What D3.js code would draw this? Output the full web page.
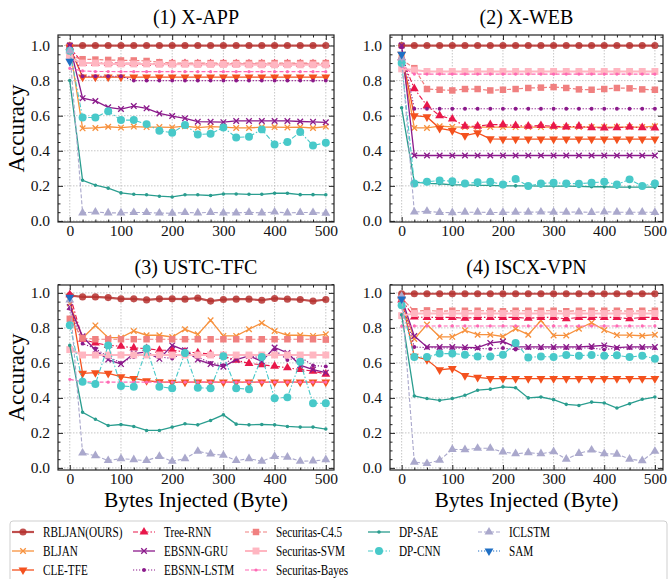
<!DOCTYPE html>
<html>
<head>
<meta charset="utf-8">
<script src="https://cdn.jsdelivr.net/npm/d3@7"></script>
<style>
  body { margin: 0; background: #fff; }
</style>
</head>
<body>
<div id="chart"></div>
<script>
// x positions (bytes injected)
var bytes = [0, 25, 50, 75, 100, 125, 150, 175, 200, 225, 250, 275, 300, 325, 350, 375, 400, 425, 450, 475, 500];

var methods = ["RBLJAN(OURS)", "BLJAN", "CLE-TFE", "Tree-RNN", "EBSNN-GRU", "EBSNN-LSTM",
  "Securitas-C4.5", "Securitas-SVM", "Securitas-Bayes", "DP-SAE", "DP-CNN", "ICLSTM", "SAM"];

var titles = ["(1) X-APP", "(2) X-WEB", "(3) USTC-TFC", "(4) ISCX-VPN"];
var yTicks = [0, 0.2, 0.4, 0.6, 0.8, 1.0];
var xTicks = [0, 100, 200, 300, 400, 500];

// one row per method, same order as methods
var xApp = [
  [1.0,1.0,1.0,1.0,1.0,1.0,1.0,1.0,1.0,1.0,1.0,1.0,1.0,1.0,1.0,1.0,1.0,1.0,1.0,1.0,1.0],
  [0.99,0.528,0.53,0.537,0.532,0.538,0.535,0.535,0.533,0.54,0.532,0.538,0.535,0.53,0.53,0.535,0.535,0.533,0.535,0.53,0.538],
  [0.99,0.82,0.82,0.82,0.82,0.82,0.82,0.82,0.82,0.82,0.82,0.82,0.82,0.82,0.82,0.82,0.82,0.82,0.82,0.82,0.82],
  [0.99,0.9,0.9,0.9,0.9,0.898,0.898,0.897,0.897,0.897,0.896,0.896,0.896,0.895,0.895,0.895,0.895,0.895,0.895,0.895,0.895],
  [1.0,0.70,0.684,0.648,0.638,0.655,0.642,0.613,0.598,0.585,0.566,0.565,0.563,0.57,0.57,0.57,0.57,0.57,0.567,0.565,0.562],
  [1.0,0.825,0.825,0.825,0.825,0.80,0.80,0.80,0.80,0.80,0.80,0.80,0.80,0.80,0.80,0.80,0.80,0.80,0.80,0.80,0.80],
  [0.94,0.922,0.92,0.918,0.915,0.915,0.912,0.905,0.9,0.9,0.9,0.9,0.9,0.9,0.9,0.9,0.9,0.9,0.9,0.9,0.9],
  [0.93,0.9,0.9,0.895,0.895,0.895,0.895,0.893,0.893,0.893,0.892,0.892,0.892,0.892,0.89,0.89,0.89,0.89,0.89,0.89,0.89],
  [0.87,0.855,0.852,0.852,0.851,0.851,0.851,0.851,0.851,0.851,0.851,0.851,0.851,0.851,0.851,0.851,0.851,0.851,0.851,0.851,0.851],
  [0.80,0.232,0.204,0.187,0.16,0.152,0.149,0.141,0.137,0.149,0.149,0.145,0.154,0.154,0.152,0.152,0.158,0.158,0.15,0.15,0.149],
  [0.97,0.59,0.59,0.625,0.575,0.575,0.552,0.514,0.503,0.547,0.493,0.497,0.533,0.476,0.48,0.522,0.436,0.45,0.507,0.43,0.446],
  [0.97,0.046,0.051,0.046,0.046,0.048,0.048,0.045,0.044,0.048,0.046,0.049,0.046,0.046,0.049,0.046,0.051,0.046,0.048,0.048,0.044],
  [0.91]
];

var xWeb = [
  [1.0,1.0,1.0,1.0,1.0,1.0,1.0,1.0,1.0,1.0,1.0,1.0,1.0,1.0,1.0,1.0,1.0,1.0,1.0,1.0,1.0],
  [0.93,0.53,0.53,0.54,0.536,0.535,0.535,0.535,0.535,0.535,0.535,0.535,0.535,0.535,0.535,0.535,0.535,0.535,0.535,0.535,0.54],
  [0.95,0.6,0.593,0.528,0.515,0.487,0.502,0.468,0.467,0.467,0.467,0.467,0.467,0.467,0.467,0.467,0.467,0.467,0.467,0.467,0.467],
  [0.93,0.754,0.657,0.6,0.581,0.54,0.54,0.549,0.549,0.544,0.54,0.544,0.54,0.536,0.54,0.532,0.53,0.532,0.536,0.532,0.53],
  [1.0,0.373,0.373,0.373,0.373,0.373,0.373,0.373,0.373,0.373,0.373,0.373,0.373,0.373,0.373,0.373,0.373,0.373,0.373,0.373,0.373],
  [0.99,0.64,0.64,0.64,0.64,0.64,0.64,0.64,0.64,0.64,0.64,0.64,0.64,0.64,0.64,0.64,0.64,0.64,0.64,0.64,0.64],
  [0.92,0.871,0.752,0.748,0.744,0.752,0.752,0.744,0.748,0.752,0.758,0.76,0.763,0.758,0.75,0.748,0.752,0.758,0.756,0.75,0.748],
  [0.867,0.86,0.852,0.852,0.852,0.852,0.852,0.852,0.852,0.852,0.852,0.852,0.852,0.852,0.852,0.852,0.852,0.852,0.852,0.852,0.852],
  [0.88,0.837,0.837,0.837,0.837,0.837,0.837,0.837,0.837,0.837,0.837,0.837,0.837,0.837,0.837,0.837,0.837,0.837,0.837,0.837,0.837],
  [0.645,0.222,0.214,0.212,0.206,0.206,0.203,0.203,0.2,0.2,0.2,0.199,0.199,0.199,0.197,0.195,0.195,0.193,0.193,0.193,0.193],
  [0.9,0.214,0.223,0.231,0.227,0.214,0.22,0.223,0.208,0.239,0.199,0.214,0.218,0.214,0.212,0.218,0.223,0.208,0.237,0.199,0.214],
  [0.93,0.051,0.055,0.049,0.047,0.05,0.05,0.048,0.049,0.05,0.05,0.051,0.05,0.05,0.051,0.049,0.052,0.05,0.05,0.05,0.049],
  [0.95]
];

var ustcTfc = [
  [0.985,0.977,0.977,0.973,0.966,0.966,0.96,0.966,0.966,0.964,0.97,0.953,0.962,0.964,0.964,0.958,0.968,0.964,0.962,0.953,0.962],
  [0.94,0.742,0.814,0.744,0.744,0.782,0.758,0.758,0.748,0.792,0.763,0.843,0.754,0.754,0.792,0.828,0.782,0.758,0.758,0.754,0.763],
  [0.98,0.54,0.544,0.54,0.521,0.511,0.498,0.492,0.489,0.49,0.49,0.49,0.49,0.49,0.49,0.49,0.49,0.49,0.49,0.49,0.49],
  [0.99,0.735,0.714,0.7,0.695,0.686,0.682,0.672,0.672,0.663,0.657,0.65,0.638,0.616,0.597,0.589,0.581,0.572,0.562,0.553,0.536],
  [0.92,0.752,0.672,0.619,0.593,0.653,0.663,0.623,0.7,0.672,0.619,0.593,0.578,0.619,0.64,0.61,0.688,0.657,0.587,0.562,0.544],
  [0.91,0.71,0.682,0.634,0.6,0.634,0.653,0.634,0.625,0.663,0.634,0.6,0.587,0.644,0.644,0.625,0.676,0.616,0.634,0.585,0.58],
  [0.852,0.742,0.735,0.735,0.735,0.735,0.735,0.735,0.735,0.735,0.735,0.735,0.735,0.735,0.735,0.735,0.735,0.735,0.735,0.735,0.733],
  [0.676,0.645,0.645,0.645,0.645,0.645,0.645,0.645,0.645,0.645,0.645,0.645,0.645,0.645,0.645,0.645,0.645,0.645,0.645,0.645,0.645],
  [0.506,0.492,0.49,0.49,0.49,0.49,0.49,0.49,0.49,0.49,0.49,0.49,0.49,0.49,0.49,0.49,0.49,0.49,0.49,0.49,0.49],
  [0.70,0.318,0.278,0.242,0.248,0.237,0.214,0.214,0.233,0.252,0.246,0.271,0.303,0.25,0.246,0.248,0.246,0.237,0.233,0.233,0.222],
  [0.815,0.492,0.479,0.7,0.468,0.464,0.682,0.464,0.455,0.657,0.458,0.455,0.638,0.455,0.449,0.634,0.398,0.403,0.606,0.369,0.369],
  [0.96,0.085,0.07,0.042,0.053,0.047,0.042,0.066,0.038,0.053,0.095,0.08,0.072,0.042,0.053,0.038,0.066,0.061,0.038,0.04,0.047],
  [0.975]
];

var iscxVpn = [
  [0.995,0.995,0.995,0.995,0.995,0.995,0.995,0.995,0.995,0.995,0.995,0.995,0.995,0.995,0.995,0.995,0.995,0.995,0.995,0.995,0.995],
  [0.95,0.737,0.819,0.749,0.749,0.786,0.761,0.761,0.751,0.795,0.761,0.842,0.757,0.757,0.795,0.83,0.788,0.759,0.759,0.755,0.761],
  [0.96,0.637,0.618,0.56,0.568,0.527,0.517,0.51,0.51,0.51,0.51,0.51,0.51,0.51,0.51,0.51,0.51,0.51,0.51,0.51,0.51],
  [0.96,0.862,0.86,0.86,0.86,0.855,0.86,0.86,0.86,0.86,0.855,0.86,0.86,0.852,0.86,0.86,0.86,0.86,0.852,0.86,0.86],
  [0.97,0.753,0.691,0.691,0.691,0.689,0.687,0.714,0.722,0.691,0.691,0.691,0.691,0.691,0.691,0.695,0.7,0.687,0.691,0.691,0.691],
  [0.96,0.691,0.687,0.685,0.685,0.683,0.683,0.68,0.685,0.676,0.685,0.683,0.685,0.685,0.685,0.685,0.676,0.685,0.685,0.685,0.683],
  [0.97,0.895,0.9,0.895,0.898,0.898,0.898,0.898,0.895,0.898,0.898,0.898,0.898,0.895,0.898,0.898,0.898,0.898,0.895,0.898,0.898],
  [0.87,0.882,0.882,0.882,0.882,0.882,0.882,0.882,0.882,0.882,0.882,0.882,0.882,0.882,0.882,0.882,0.882,0.882,0.882,0.882,0.882],
  [0.81,0.811,0.811,0.811,0.811,0.811,0.811,0.811,0.811,0.811,0.811,0.811,0.811,0.811,0.811,0.811,0.811,0.811,0.811,0.811,0.811],
  [0.875,0.411,0.396,0.386,0.396,0.415,0.444,0.45,0.463,0.458,0.4,0.405,0.39,0.363,0.357,0.376,0.371,0.342,0.367,0.392,0.405],
  [0.93,0.633,0.633,0.653,0.653,0.647,0.637,0.637,0.647,0.714,0.631,0.637,0.633,0.645,0.641,0.645,0.641,0.643,0.633,0.641,0.624],
  [0.98,0.033,0.025,0.044,0.106,0.104,0.112,0.112,0.091,0.081,0.087,0.081,0.093,0.05,0.083,0.102,0.081,0.079,0.05,0.041,0.095],
  [0.965]
];

var datasets = [xApp, xWeb, ustcTfc, iscxVpn];

// line / marker style per method
var styles = [
  {color: "#b5302e", width: 2.2, dash: null, marker: "circle", size: 40, alpha: 0.85},
  {color: "#f7913d", width: 1.3, dash: null, marker: "x", size: 22, alpha: 1},
  {color: "#f4511e", width: 1.3, dash: null, marker: "tridown", size: 34, alpha: 1},
  {color: "#e8174a", width: 1.1, dash: "5,2,1.5,2", marker: "triup", size: 34, alpha: 1},
  {color: "#8b1a8b", width: 1.3, dash: null, marker: "x", size: 22, alpha: 1},
  {color: "#8b1a8b", width: 1.1, dash: "1.2,1.8", marker: "circle", size: 12, alpha: 1},
  {color: "#f08080", width: 1.2, dash: "4,2", marker: "square", size: 42, alpha: 1},
  {color: "#ffb6c1", width: 2, dash: null, marker: "square", size: 48, alpha: 1},
  {color: "#ff69b4", width: 1.1, dash: "4,2", marker: "circle", size: 8, alpha: 1},
  {color: "#2a9d8f", width: 1.3, dash: null, marker: "circle", size: 10, alpha: 1},
  {color: "#48c9c9", width: 1.1, dash: "5,2,1.5,2", marker: "circle", size: 50, alpha: 1},
  {color: "#aaa8cc", width: 1.1, dash: "4,2", marker: "triup", size: 34, alpha: 1},
  {color: "#1f6fc4", width: 1.1, dash: "1.2,1.8", marker: "tridown", size: 34, alpha: 1}
];

var FONT = "'Liberation Serif', 'Times New Roman', Times, serif";

var W = 672, H = 579;
var svg = d3.select("#chart").append("svg").attr("width", W).attr("height", H);

// frames of the four plot areas
var cols = [[58, 334], [390, 663]];
var rows = [{top: 35, bottom: 222, dom: [-0.006, 1.06]}, {top: 285, bottom: 470, dom: [-0.012, 1.045]}];

function symbolPath(st) {
  var t = st.marker;
  if (t == "circle") return d3.symbol(d3.symbolCircle, st.size)();
  if (t == "square") return d3.symbol(d3.symbolSquare, st.size)();
  if (t == "x") return d3.symbol(d3.symbolX, st.size)();
  return d3.symbol(d3.symbolTriangle, st.size)();
}

function drawMarker(g, st, cx, cy) {
  var p = g.append("path")
    .attr("d", symbolPath(st))
    .attr("transform", "translate(" + cx + "," + cy + ")" + (st.marker == "tridown" ? " rotate(180)" : ""))
    .attr("opacity", st.alpha);
  if (st.marker == "x") p.attr("fill", "none").attr("stroke", st.color).attr("stroke-width", 1.3);
  else p.attr("fill", st.color).attr("stroke", "none");
}

datasets.forEach(function(data, k) {
  var c = cols[k % 2], r = rows[Math.floor(k / 2)];
  var x = d3.scaleLinear().domain([-23, 516]).range([c[0], c[1]]);
  var y = d3.scaleLinear().domain(r.dom).range([r.bottom, r.top]);
  var g = svg.append("g");

  // grid
  g.selectAll(".gx").data(xTicks).enter().append("line")
    .attr("x1", d => x(d)).attr("x2", d => x(d)).attr("y1", r.top).attr("y2", r.bottom)
    .attr("stroke", "#b8b8b8").attr("stroke-width", 0.8).attr("stroke-dasharray", "1.5,1.5");
  g.selectAll(".gy").data(yTicks).enter().append("line")
    .attr("x1", c[0]).attr("x2", c[1]).attr("y1", d => y(d)).attr("y2", d => y(d))
    .attr("stroke", "#b8b8b8").attr("stroke-width", 0.8).attr("stroke-dasharray", "1.5,1.5");

  // series
  data.forEach(function(vals, i) {
    var st = styles[i];
    var pts = vals.map((v, j) => [bytes[j], v]);
    var line = d3.line().x(d => x(d[0])).y(d => y(d[1]));
    var sg = g.append("g");
    if (pts.length > 1) {
      sg.append("path").datum(pts).attr("d", line)
        .attr("fill", "none").attr("stroke", st.color).attr("stroke-width", st.width)
        .attr("stroke-dasharray", st.dash).attr("opacity", st.alpha);
    }
    pts.forEach(function(p) { drawMarker(sg, st, x(p[0]), y(p[1])); });
  });

  // axes with inward ticks on all sides
  var minorX = d3.range(0, 501, 25).filter(d => d % 100 != 0);
  var minorY = d3.range(0, 1.051, 0.05).filter(d => Math.round(d * 100) % 20 != 0);
  var axB = d3.axisBottom(x).tickValues(xTicks).tickSize(-5).tickPadding(3).tickFormat(d3.format("d"));
  var axT = d3.axisTop(x).tickValues(xTicks).tickSize(-5).tickFormat("");
  var axL = d3.axisLeft(y).tickValues(yTicks).tickSize(-5).tickPadding(8).tickFormat(d3.format(".1f"));
  var axR = d3.axisRight(y).tickValues(yTicks).tickSize(-5).tickFormat("");
  var mB = d3.axisBottom(x).tickValues(minorX).tickSize(-2.5).tickFormat("");
  var mT = d3.axisTop(x).tickValues(minorX).tickSize(-2.5).tickFormat("");
  var mL = d3.axisLeft(y).tickValues(minorY).tickSize(-2.5).tickFormat("");
  var mR = d3.axisRight(y).tickValues(minorY).tickSize(-2.5).tickFormat("");
  [[axB, mB, "translate(0," + r.bottom + ")"], [axT, mT, "translate(0," + r.top + ")"],
   [axL, mL, "translate(" + c[0] + ",0)"], [axR, mR, "translate(" + c[1] + ",0)"]].forEach(function(a) {
    var ga = g.append("g").attr("transform", a[2]).call(a[0]);
    ga.select(".domain").remove();
    ga.attr("font-family", null).attr("font-size", null);
    ga.selectAll("text").style("font-family", FONT).style("font-size", "15.5px").attr("fill", "#111");
    ga.selectAll("line").attr("stroke", "#222");
    var gm = g.append("g").attr("transform", a[2]).call(a[1]);
    gm.select(".domain").remove();
    gm.selectAll("line").attr("stroke", "#222");
  });
  g.append("rect").attr("x", c[0]).attr("y", r.top).attr("width", c[1] - c[0]).attr("height", r.bottom - r.top)
    .attr("fill", "none").attr("stroke", "#222").attr("stroke-width", 1.2);

  // title
  g.append("text").attr("x", (c[0] + c[1]) / 2).attr("y", r.top - 11)
    .attr("text-anchor", "middle").style("font-family", FONT).style("font-size", "20px").text(titles[k]);

  if (k % 2 == 0) {
    g.append("text").attr("transform", "translate(24," + ((r.top + r.bottom) / 2) + ") rotate(-90)")
      .attr("text-anchor", "middle").style("font-family", FONT).style("font-size", "23px").text("Accuracy");
  }
  if (k >= 2) {
    g.append("text").attr("x", (c[0] + c[1]) / 2).attr("y", r.bottom + 37)
      .attr("text-anchor", "middle").style("font-family", FONT).style("font-size", "21.5px").text("Bytes Injected (Byte)");
  }
});

// legend
var leg = svg.append("g");
leg.append("rect").attr("x", 10).attr("y", 521).attr("width", 657).attr("height", 70)
  .attr("rx", 3).attr("fill", "#fff").attr("stroke", "#cfcfcf").attr("stroke-width", 1);
var colX = [12, 133, 245, 368, 478];
var perCol = [3, 3, 3, 2, 2];
var idx = 0;
perCol.forEach(function(n, ci) {
  for (var ri = 0; ri < n; ri++) {
    var st = styles[idx];
    var lx = colX[ci], ly = 532 + ri * 19;
    var lg = leg.append("g");
    lg.append("line").attr("x1", lx).attr("x2", lx + 22).attr("y1", ly).attr("y2", ly)
      .attr("stroke", st.color).attr("stroke-width", st.width).attr("stroke-dasharray", st.dash).attr("opacity", st.alpha);
    drawMarker(lg, st, lx + 11, ly);
    lg.append("text").attr("transform", "translate(" + (lx + 31) + "," + (ly + 5) + ") scale(0.8,1)")
      .style("font-family", FONT).style("font-size", "14px").text(methods[idx]);
    idx++;
  }
});
</script>
</body>
</html>
